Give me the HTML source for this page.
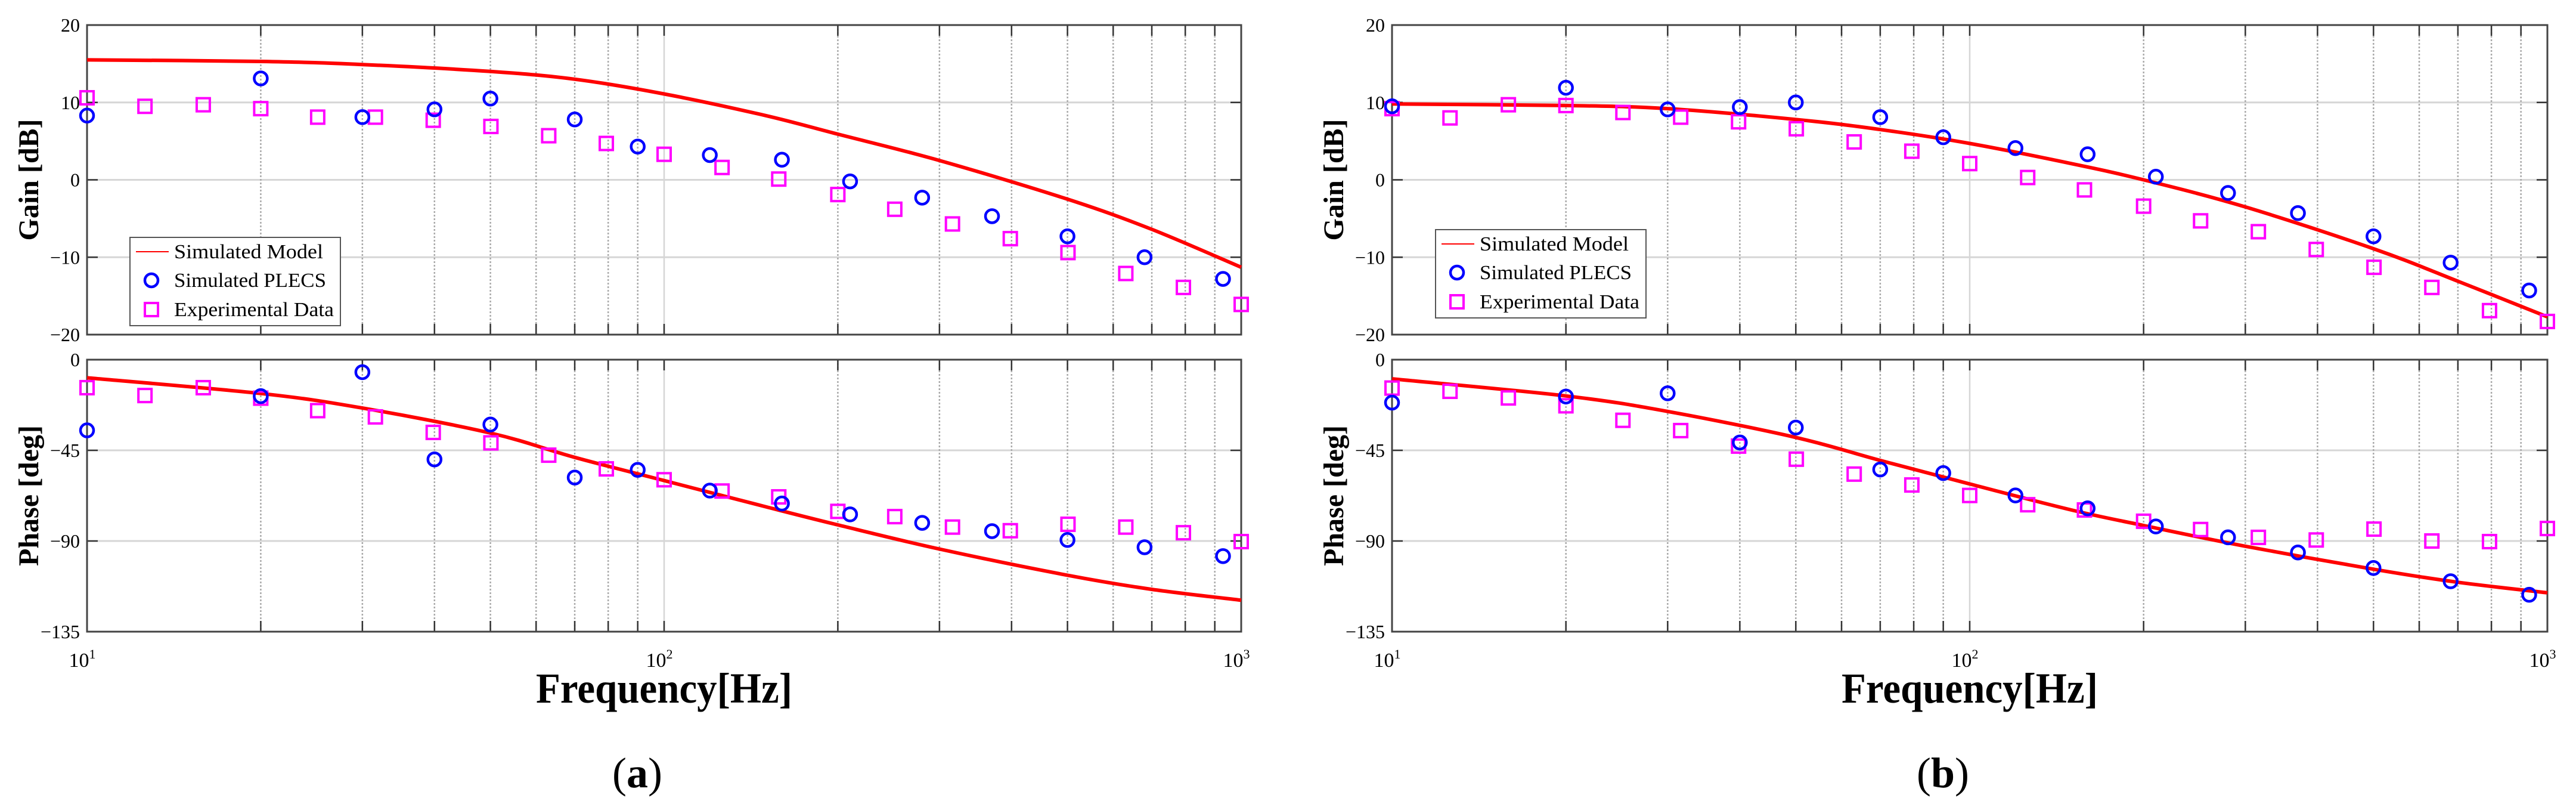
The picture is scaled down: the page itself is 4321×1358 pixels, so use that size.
<!DOCTYPE html>
<html><head><meta charset="utf-8">
<style>
html,body{margin:0;padding:0;background:#fff;}
svg{display:block;}
text{font-family:"Liberation Serif",serif;fill:#000;}
</style></head>
<body>
<svg id="chart" xmlns="http://www.w3.org/2000/svg" width="4321" height="1358" viewBox="0 0 4321 1358"></svg>
<script>
// ---------- data ----------
const sqFreq = [10,12.6,15.9,20,25.1,31.6,39.8,50.1,63.1,79.4,100,126,158,200,251,316,398,501,631,794,1000];
const circFreq = [10,20,30,40,50,70,90,120,160,210,280,370,500,680,930];
const modelFreq = [10,20,30,50,70,100,150,200,300,500,700,1000];

const aGainExp = [10.6,9.5,9.7,9.2,8.1,8.1,7.7,6.9,5.7,4.7,3.3,1.6,0.1,-1.9,-3.8,-5.7,-7.6,-9.4,-12.1,-13.9,-16.1];
const aGainPlecs = [8.3,13.1,8.1,9.1,10.5,7.8,4.3,3.2,2.6,-0.2,-2.3,-4.7,-7.3,-10,-12.8];
const aGainModel = [15.5,15.3,14.9,14.0,13.0,11.1,8.3,5.9,2.5,-2.5,-6.4,-11.3];
const aPhaseExp = [-13.9,-17.8,-13.9,-19.1,-25.3,-28.4,-36.1,-41.3,-47.4,-54.2,-59.6,-65.2,-68.1,-75.3,-77.9,-83.1,-84.9,-81.7,-83.1,-85.9,-90.3];
const aPhasePlecs = [-35.1,-18.1,-6.2,-49.5,-32.2,-58.5,-54.7,-65,-71.4,-76.8,-81,-85.1,-89.5,-93.1,-97.5];
const aPhaseModel = [-9,-16.8,-24,-36.4,-48.5,-60,-73,-82,-94,-107,-114,-119.4];

const bGainExp = [9.2,8,9.7,9.6,8.7,8.1,7.5,6.6,4.9,3.7,2.1,0.3,-1.3,-3.4,-5.3,-6.7,-9,-11.3,-13.9,-16.9,-18.3];
const bGainPlecs = [9.5,11.9,9.1,9.4,10,8.1,5.5,4.1,3.3,0.4,-1.7,-4.3,-7.3,-10.7,-14.3];
const bGainModel = [9.8,9.6,9.2,7.8,6.5,4.7,2.1,0,-3.5,-8.9,-13.1,-17.7];
const bPhaseExp = [-14.1,-15.7,-19,-22.9,-30.1,-35.2,-42.9,-49.4,-56.8,-62.2,-67.4,-72,-74.6,-80.2,-84.3,-88.2,-89.5,-84.1,-90,-90.3,-83.8];
const bPhasePlecs = [-21.3,-18.3,-16.7,-41.1,-33.7,-54.5,-56.3,-67.4,-73.8,-82.8,-88.2,-95.7,-103.4,-110,-116.7];
const bPhaseModel = [-9.5,-18,-25.7,-38.6,-50,-61.7,-74.6,-82.3,-92.6,-104,-110.5,-115.7];

const gainTicks = [20,10,0,-10,-20];
const gainTickLabels = ["20","10","0","\u221210","\u221220"];
const phaseTicks = [0,-45,-90,-135];
const phaseTickLabels = ["0","\u221245","\u221290","\u2212135"];
const decadeExps = [1,2,3];
const legendLabels = ["Simulated Model","Simulated PLECS","Experimental Data"];

// ---------- drawing ----------
const NS = "http://www.w3.org/2000/svg";
const svg = document.getElementById("chart");
function mk(tag, attrs, parent){
  const e = document.createElementNS(NS, tag);
  for (const k in attrs) e.setAttribute(k, attrs[k]);
  (parent||svg).appendChild(e);
  return e;
}
function smoothPath(pts){
  let d = "M"+pts[0][0].toFixed(1)+","+pts[0][1].toFixed(1);
  for (let i=0;i<pts.length-1;i++){
    const p0=pts[Math.max(0,i-1)], p1=pts[i], p2=pts[i+1], p3=pts[Math.min(pts.length-1,i+2)];
    const c1=[p1[0]+(p2[0]-p0[0])/6, p1[1]+(p2[1]-p0[1])/6];
    const c2=[p2[0]-(p3[0]-p1[0])/6, p2[1]-(p3[1]-p1[1])/6];
    d+=" C"+c1[0].toFixed(1)+","+c1[1].toFixed(1)+" "+c2[0].toFixed(1)+","+c2[1].toFixed(1)+" "+p2[0].toFixed(1)+","+p2[1].toFixed(1);
  }
  return d;
}

function panel(id, x0, x1, gainE, gainP, gainM, phE, phP, phM, legY0, legX0, letter){
  const g = mk("g", {});
  
  
  const xs = f => x0 + (Math.log10(f)-1)/2*(x1-x0);
  const axes = [
    {name:"gain", y0:42, y1:561, vmax:20, vmin:-20, ticks:gainTicks, labels:gainTickLabels, title:"Gain [dB]", E:gainE, P:gainP, M:gainM},
    {name:"phase", y0:603, y1:1059, vmax:0, vmin:-135, ticks:phaseTicks, labels:phaseTickLabels, title:"Phase [deg]", E:phE, P:phP, M:phM}
  ];
  axes.forEach(ax=>{
    const ys = v => ax.y0 + (ax.vmax - v)/(ax.vmax-ax.vmin)*(ax.y1-ax.y0);
    const ag = mk("g", {}, g);
    
    
    ax.ticks.forEach((t,i)=>{
      const y = ys(t);
      const gl = mk("line",{x1:x0,x2:x1,y1:y,y2:y,stroke:"#d6d6d6","stroke-width":3},ag);
      
      
      mk("line",{x1:x0,x2:x0+18,y1:y,y2:y,stroke:"#333","stroke-width":2.5},ag);
      mk("line",{x1:x1-18,x2:x1,y1:y,y2:y,stroke:"#333","stroke-width":2.5},ag);
      const tl = mk("text",{x:x0-12,y:y+11,"font-size":32,"text-anchor":"end"},ag);
      tl.textContent = ax.labels[i];
      
      
    });
    for (let dec=10; dec<1000; dec*=10){
      for (let m=1;m<10;m++){
        const f = dec*m; const x = xs(f);
        if (m===1){
          if (f!==10) mk("line",{x1:x,x2:x,y1:ax.y0,y2:ax.y1,stroke:"#d6d6d6","stroke-width":2.5},ag);
        } else {
          const vl = mk("line",{x1:x,x2:x,y1:ax.y0,y2:ax.y1,stroke:"#aaa","stroke-width":2.5,"stroke-dasharray":"3,3"},ag);
          
          
        }
        mk("line",{x1:x,x2:x,y1:ax.y0,y2:ax.y0+18,stroke:"#333","stroke-width":2.5},ag);
        mk("line",{x1:x,x2:x,y1:ax.y1-18,y2:ax.y1,stroke:"#333","stroke-width":2.5},ag);
      }
    }
    const box = mk("rect",{x:x0,y:ax.y0,width:x1-x0,height:ax.y1-ax.y0,fill:"none",stroke:"#444","stroke-width":3},ag);
    
    
    const cy = (ax.y0+ax.y1)/2;
    const yt = mk("text",{x:0,y:0,"font-size":48,"font-weight":"bold","text-anchor":"middle",transform:"translate("+(x0-82)+","+cy+") rotate(-90)"},ag);
    yt.textContent = ax.title;
    
    
    const pts = modelFreq.map((f,i)=>[xs(f), ys(ax.M[i])]);
    const ml = mk("path",{d:smoothPath(pts),fill:"none",stroke:"#ff0000","stroke-width":6},ag);
    
    
    sqFreq.forEach((f,i)=>{
      const x=xs(f), y=ys(ax.E[i]);
      const s = mk("rect",{x:x-11,y:y-11,width:22,height:22,fill:"none",stroke:"#ff00ff","stroke-width":4},ag);
      
      
    });
    circFreq.forEach((f,i)=>{
      const x=xs(f), y=ys(ax.P[i]);
      const c = mk("circle",{cx:x,cy:y,r:11,fill:"none",stroke:"#0000ff","stroke-width":4.5},ag);
      
      
    });
  });
  decadeExps.forEach(e=>{
    const x = xs(Math.pow(10,e));
    const t = mk("text",{x:x-8,y:1118,"font-size":34,"text-anchor":"middle"},g);
    
    
    t.textContent = "10";
    const s = mk("tspan",{dy:-14,"font-size":22},t);
    s.textContent = String(e);
  });
  const xt = mk("text",{x:(x0+x1)/2,y:1178,"font-size":72,"font-weight":"bold","text-anchor":"middle",textLength:430,lengthAdjust:"spacingAndGlyphs"},g);
  xt.textContent = "Frequency[Hz]";
  
  
  const lt = mk("text",{x:(x0+x1)/2-45,y:1320,"font-size":72,"text-anchor":"middle"},g);
  lt.textContent = "(";
  const b = mk("tspan",{"font-weight":"bold"},lt); b.textContent = letter;
  const c = mk("tspan",{},lt); c.textContent = ")";
  
  
  const lg = mk("g",{},g);
  
  
  mk("rect",{x:legX0,y:legY0,width:353,height:148,fill:"#fff",stroke:"#555","stroke-width":2},lg);
  const rows=[legY0+24,legY0+72,legY0+121];
  legendLabels.forEach((lab,i)=>{
    const y=rows[i];
    const le = mk("g",{},lg);
    
    
    if(i===0) mk("line",{x1:legX0+10,x2:legX0+65,y1:y,y2:y,stroke:"#ff0000","stroke-width":2},le);
    if(i===1) mk("circle",{cx:legX0+36,cy:y,r:11,fill:"none",stroke:"#0000ff","stroke-width":4.5},le);
    if(i===2) mk("rect",{x:legX0+25,y:y-11,width:22,height:22,fill:"none",stroke:"#ff00ff","stroke-width":4},le);
    const t = mk("text",{x:legX0+74,y:y+11,"font-size":34,textLength:[250,255,268][i],lengthAdjust:"spacingAndGlyphs"},le);
    t.textContent = lab;
  });
}
panel("a",146,2082,aGainExp,aGainPlecs,aGainModel,aPhaseExp,aPhasePlecs,aPhaseModel,398,218,"a");
panel("b",2335,4273,bGainExp,bGainPlecs,bGainModel,bPhaseExp,bPhasePlecs,bPhaseModel,385,2408,"b");
</script>
</body></html>
